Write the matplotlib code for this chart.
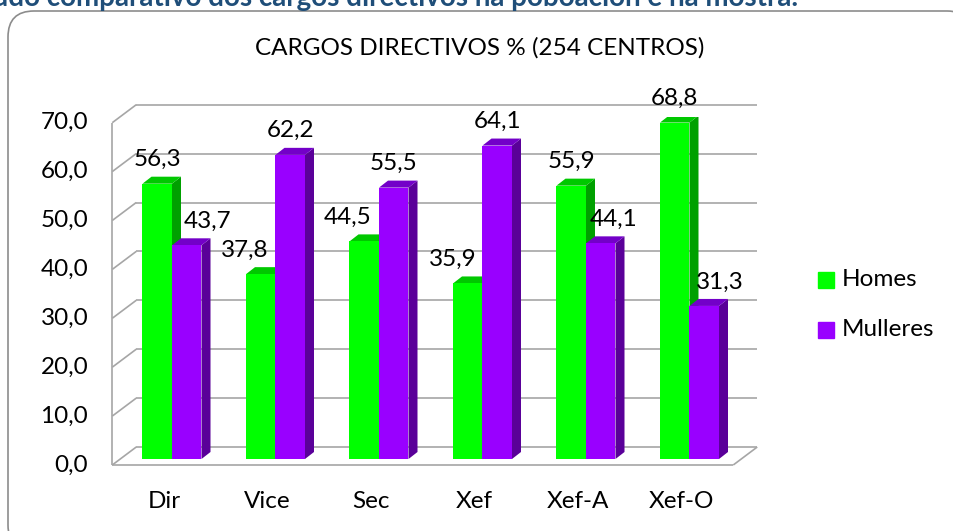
import matplotlib
matplotlib.use('Agg')
import matplotlib.pyplot as plt
from matplotlib.patches import Polygon, Rectangle, FancyBboxPatch

# data
categories = ['Dir', 'Vice', 'Sec', 'Xef', 'Xef-A', 'Xef-O']
homes = [56.3, 37.8, 44.5, 35.9, 55.9, 68.8]
mulleres = [43.7, 62.2, 55.5, 64.1, 44.1, 31.3]
yticks = [0, 10, 20, 30, 40, 50, 60, 70]
series = ['Homes', 'Mulleres']
chart_title = 'CARGOS DIRECTIVOS % (254 CENTROS)'
page_title = 'Estudo comparativo dos cargos directivos na poboación e na mostra.'

# style
front_cols = ['#00FF00', '#9900FF']
side_cols = ['#00A000', '#5A0099']
top_cols = ['#00C800', '#7300C8']
grid_col = '#A6A6A6'
label_dx = [[0, -16, -17, -15, 0, 0], [21, 0, 0, 0, 13, 16]]   # px nudges of value labels
fs = 17.5

plt.rcParams['font.family'] = ['Lato', 'DejaVu Sans']

W, H = 954, 531
fig = plt.figure(figsize=(W / 100, H / 100), dpi=100)

# overlay in pixel coords (y down) for frame, titles, legend
bg = fig.add_axes([0, 0, 1, 1])
bg.set_xlim(0, W)
bg.set_ylim(H, 0)
bg.axis('off')
bg.add_patch(FancyBboxPatch((8, 11), 965, 540, boxstyle='round,pad=0,rounding_size=26',
                            fc='white', ec='#8C8C8C', lw=1.2))
bg.text(798, 6, page_title, ha='right', va='baseline', fontsize=20,
        fontweight='bold', color='#1F4E79')
bg.text(480, 48, chart_title, ha='center', va='center', fontsize=fs)
for k, name in enumerate(series):
    yc = 280 + 49.5 * k
    bg.add_patch(Rectangle((818, yc - 8), 16, 16, color=front_cols[k]))
    bg.text(842, yc, name, ha='left', va='center', fontsize=fs)

# bar plane axes
left, right, base, top = 120.25, 741.25, 459, 116.7
ax = fig.add_axes([left / W, 1 - base / H, (right - left) / W, (base - top) / H])
ax.set_xlim(-0.5, 5.5)
ax.set_ylim(0, 70)
ax.axis('off')
ppx = (right - left) / 6
ppy = (base - top) / 70

bx, by = 16 / ppx, 12 / ppy      # back wall offset
fx, fy = -8 / ppx, -6 / ppy      # front edge offset
dx, dy = 9 / ppx, 7 / ppy        # bar depth
w = 29.5 / ppx

lk = dict(color=grid_col, lw=1.2, clip_on=False, zorder=1, solid_capstyle='butt')
for v in yticks:
    ax.plot([-0.5 + bx, 5.5 + bx], [v + by, v + by], **lk)
    ax.plot([-0.5 + fx, -0.5 + bx], [v + fy, v + by], **lk)
    ax.text(-0.5 + fx - 24 / ppx, v + fy, f'{v:.1f}'.replace('.', ','),
            ha='right', va='center', fontsize=fs)
ax.plot([-0.5 + fx, -0.5 + fx], [fy, 70 + fy], **lk)
ax.plot([-0.5 + fx, 5.5 + fx], [fy, fy], **lk)
ax.plot([5.5 + fx, 5.5 + bx], [fy, by], **lk)

for i, cat in enumerate(categories):
    ax.text(i + fx, fy - 36 / ppy, cat, ha='center', va='center', fontsize=fs)
    for k, vals in enumerate([homes, mulleres]):
        v = vals[i]
        x0 = i - w + k * w
        x1 = x0 + w
        z = 3 + i * 3 + k
        ax.add_patch(Polygon([(x1, 0), (x1 + dx, dy), (x1 + dx, v + dy), (x1, v)],
                             closed=True, fc=side_cols[k], ec='none', zorder=z))
        ax.add_patch(Polygon([(x0, v), (x1, v), (x1 + dx, v + dy), (x0 + dx, v + dy)],
                             closed=True, fc=top_cols[k], ec='none', zorder=z))
        ax.bar(x0, v, width=w, align='edge', color=front_cols[k], zorder=z + 0.5)
        ax.text(x0 + w / 2 + label_dx[k][i] / ppx, v + 24 / ppy,
                f'{v:.1f}'.replace('.', ','), ha='center', va='center',
                fontsize=fs, zorder=30)

fig.savefig('out.png', dpi=100)
